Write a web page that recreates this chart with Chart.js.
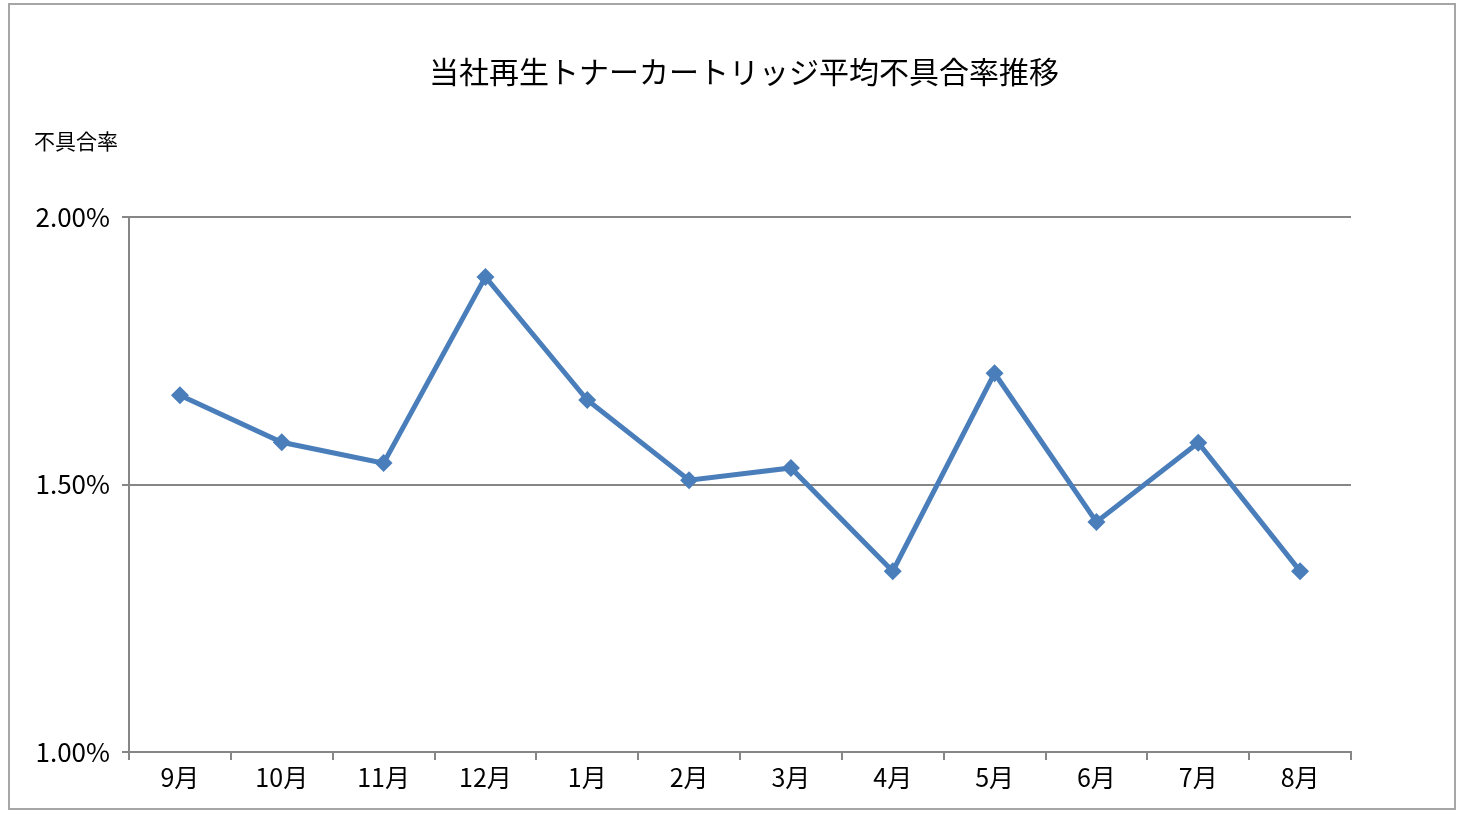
<!DOCTYPE html>
<html>
<head>
<meta charset="utf-8">
<script src="https://cdn.jsdelivr.net/npm/chart.js@4"></script>
<style>
  html, body { margin: 0; padding: 0; background: #fff; }
  #wrap { position: relative; width: 1460px; height: 815px; }
  #frame { position: absolute; left: 8px; top: 3px; width: 1444px; height: 803px; border: 2px solid #a6a6a6; pointer-events: none; }
</style>
</head>
<body>
<div id="wrap">
  <canvas id="chart" width="1460" height="815"></canvas>
  <div id="frame"></div>
</div>
<script>
const months = ["9月", "10月", "11月", "12月", "1月", "2月", "3月", "4月", "5月", "6月", "7月", "8月"];
const defectRate = [1.667, 1.579, 1.540, 1.888, 1.658, 1.508, 1.531, 1.338, 1.708, 1.430, 1.578, 1.338];
const chartTitle = "当社再生トナーカートリッジ平均不具合率推移";
const axisLabel = "不具合率";

const FONT = '"Noto Sans CJK JP", "Noto Sans", sans-serif';

// title and y-axis caption drawn as text at fixed spots
const textPlugin = {
    id: 'texts',
    afterDraw(chart) {
        const ctx = chart.ctx;
        ctx.save();
        ctx.fillStyle = '#000';
        ctx.textBaseline = 'middle';
        ctx.textAlign = 'center';
        ctx.font = '30px ' + FONT;
        ctx.fillText(chartTitle, 744, 72);
        ctx.textAlign = 'left';
        ctx.font = '21px ' + FONT;
        ctx.fillText(axisLabel, 34, 141);
        ctx.restore();
    }
};

new Chart(document.getElementById('chart'), {
    type: 'line',
    data: {
        labels: months,
        datasets: [{
            data: defectRate,
            borderColor: '#4a7ebb',
            backgroundColor: '#4a7ebb',
            borderWidth: 5,
            pointStyle: 'rectRot',
            pointRadius: 9,
            pointBorderWidth: 0,
            tension: 0,
        }]
    },
    options: {
        responsive: false,
        animation: false,
        layout: { padding: { top: 217, right: 109, bottom: 0, left: 0 } },
        plugins: {
            legend: { display: false },
            title: { display: false },
            tooltip: { enabled: false },
        },
        scales: {
            x: {
                offset: true,
                afterFit: (axis) => { axis.height = 63; },
                grid: { offset: true, drawOnChartArea: false, tickLength: 8, color: '#868686', lineWidth: 2 },
                border: { color: '#868686', width: 2 },
                ticks: { color: '#000', font: { family: FONT, size: 25 }, padding: 2 },
            },
            y: {
                min: 1.0,
                max: 2.0,
                afterFit: (axis) => { axis.width = 129; },
                grid: { color: '#868686', lineWidth: 2, tickLength: 7 },
                border: { color: '#868686', width: 2 },
                ticks: {
                    stepSize: 0.5,
                    color: '#000',
                    font: { family: FONT, size: 26 },
                    padding: 12,
                    callback: (v) => v.toFixed(2) + '%',
                },
            }
        }
    },
    plugins: [textPlugin]
});
</script>
</body>
</html>
